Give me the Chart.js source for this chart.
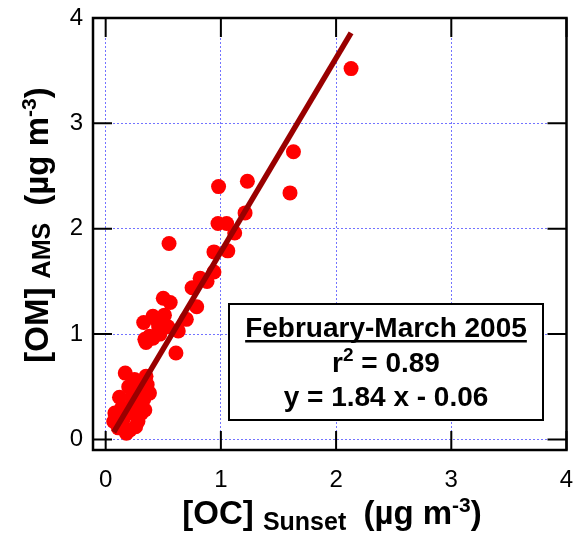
<!DOCTYPE html>
<html>
<head>
<meta charset="utf-8">
<script src="https://cdn.jsdelivr.net/npm/chart.js@4.4.1/dist/chart.umd.min.js"></script>
<style>
  html, body { margin: 0; padding: 0; background: #fff; }
  #wrap { width: 574px; height: 534px; }
</style>
</head>
<body>
<div id="wrap"><canvas id="chart" width="574" height="534"></canvas></div>
<script>
// OC (Sunset) vs OM (AMS), Feb-Mar 2005
const ocSunset = [
    2.13, 1.63, 1.60, 1.23, 0.98, 1.21, 0.975, 1.05, 1.12, 0.55,
    0.94, 1.06, 0.94, 0.82, 0.88, 0.75, 0.79, 0.50, 0.56, 0.70,
    0.63, 0.41, 0.51, 0.33, 0.46, 0.54, 0.34, 0.41, 0.47, 0.61,
    0.35, 0.45, 0.38,
    0.17, 0.35, 0.25, 0.28, 0.38, 0.12, 0.23, 0.33, 0.25, 0.08,
    0.20, 0.31, 0.07, 0.15, 0.28, 0.18, 0.11, 0.34, 0.30, 0.20,
    0.26, 0.36, 0.22, 0.14, 0.21, 0.32
];
const omAms = [
    3.52, 2.73, 2.34, 2.45, 2.40, 2.15, 2.05, 2.05, 1.96, 1.86,
    1.78, 1.79, 1.59, 1.53, 1.50, 1.44, 1.26, 1.34, 1.30, 1.14,
    1.03, 1.17, 1.18, 1.11, 1.07, 1.07, 0.95, 0.96, 1.00, 0.82,
    0.92, 1.12, 0.98,
    0.63, 0.60, 0.57, 0.51, 0.44, 0.40, 0.41, 0.38, 0.32, 0.25,
    0.25, 0.25, 0.17, 0.19, 0.17, 0.06, 0.11, 0.28, 0.46, 0.50,
    0.12, 0.52, 0.32, 0.30, 0.09, 0.50
];
const fitSlope = 1.84;
const fitIntercept = -0.06;
const xTicks = [0, 1, 2, 3, 4];
const yTicks = [0, 1, 2, 3, 4];
const statLines = ['February-March 2005', 'r2 = 0.89', 'y = 1.84 x - 0.06'];

const FONT = "'Liberation Sans', Arial, Helvetica, sans-serif";

const xMinData = Math.min.apply(null, ocSunset);
const xMaxData = Math.max.apply(null, ocSunset);
const fitLine = [xMinData, xMaxData].map(function (v) {
    return { x: v, y: fitSlope * v + fitIntercept };
});

// draw a row of text runs (normal / sub / superscript) centred on cx
function drawRuns(ctx, runs, cx, baseY) {
    let total = 0;
    runs.forEach(function (r) {
        ctx.font = 'bold ' + r.size + 'px ' + FONT;
        r.w = ctx.measureText(r.text).width;
        total += r.w + (r.gap || 0);
    });
    let xPos = cx - total / 2;
    ctx.textAlign = 'left';
    ctx.textBaseline = 'alphabetic';
    runs.forEach(function (r) {
        ctx.font = 'bold ' + r.size + 'px ' + FONT;
        ctx.fillText(r.text, xPos, baseY + (r.dy || 0));
        xPos += r.w + (r.gap || 0);
    });
}

function noPad(s) {
    s.paddingLeft = 0; s.paddingRight = 0;
    s.paddingTop = 0; s.paddingBottom = 0;
}

const framePlugin = {
    id: 'frame',
    afterDraw(chart) {
        const ctx = chart.ctx;
        const a = chart.chartArea;
        const xs = chart.scales.x, ys = chart.scales.y;
        const tickLen = 19;
        ctx.save();
        ctx.strokeStyle = '#000';
        ctx.lineWidth = 2;
        ctx.beginPath();
        xTicks.forEach(function (v) {
            const px = xs.getPixelForValue(v);
            ctx.moveTo(px, a.bottom); ctx.lineTo(px, a.bottom - tickLen);
            ctx.moveTo(px, a.top); ctx.lineTo(px, a.top + tickLen);
        });
        yTicks.forEach(function (v) {
            const py = ys.getPixelForValue(v);
            ctx.moveTo(a.left, py); ctx.lineTo(a.left + tickLen, py);
            ctx.moveTo(a.right, py); ctx.lineTo(a.right - tickLen, py);
        });
        ctx.stroke();
        ctx.lineWidth = 2.5;
        ctx.strokeRect(a.left, a.top, a.right - a.left, a.bottom - a.top);

        // stats box
        const bx = 229, by = 304, bw = 314, bh = 116;
        ctx.fillStyle = '#fff';
        ctx.fillRect(bx, by, bw, bh);
        ctx.lineWidth = 2;
        ctx.strokeRect(bx, by, bw, bh);
        const cx = bx + bw / 2;
        ctx.fillStyle = '#000';
        ctx.font = 'bold 28px ' + FONT;
        ctx.textAlign = 'center';
        ctx.textBaseline = 'alphabetic';
        ctx.fillText(statLines[0], cx, 337);
        const tw = ctx.measureText(statLines[0]).width;
        ctx.fillRect(cx - tw / 2, 340, tw, 2.5);
        drawRuns(ctx, [
            { text: 'r', size: 28 },
            { text: '2', size: 19, dy: -11 },
            { text: ' = 0.89', size: 28 }
        ], cx, 372);
        ctx.font = 'bold 28px ' + FONT;
        ctx.textAlign = 'center';
        ctx.fillText(statLines[2], cx, 406);

        // axis titles
        drawRuns(ctx, [
            { text: '[OC] ', size: 33 },
            { text: 'Sunset', size: 25, dy: 6, gap: 8 },
            { text: ' (\u00b5g m', size: 33 },
            { text: '-3', size: 21, dy: -12 },
            { text: ')', size: 33 }
        ], 332, 524);

        ctx.translate(48, 225);
        ctx.rotate(-Math.PI / 2);
        drawRuns(ctx, [
            { text: '[OM] ', size: 33 },
            { text: 'AMS', size: 25, dy: 2, gap: 8 },
            { text: ' (\u00b5g m', size: 33 },
            { text: '-3', size: 21, dy: -12 },
            { text: ')', size: 33 }
        ], 0, 0);
        ctx.restore();
    }
};

const gridColor = 'rgba(90, 90, 255, 0.85)';

new Chart(document.getElementById('chart'), {
    type: 'scatter',
    data: {
        datasets: [{
            type: 'line',
            label: 'fit',
            data: fitLine,
            borderColor: '#990000',
            borderWidth: 5.5,
            pointRadius: 0,
            fill: false,
            order: 0
        }, {
            label: 'OM vs OC',
            data: ocSunset.map(function (v, i) { return { x: v, y: omAms[i] }; }),
            backgroundColor: '#ff0000',
            borderWidth: 0,
            pointRadius: 7.5,
            pointHoverRadius: 7.5,
            order: 1
        }]
    },
    options: {
        responsive: false,
        animation: false,
        layout: { padding: { top: 18, right: 6, left: 0, bottom: 0 } },
        plugins: {
            legend: { display: false },
            tooltip: { enabled: false }
        },
        scales: {
            x: {
                type: 'linear',
                min: -0.11,
                max: 4,
                afterBuildTicks: function (s) { s.ticks = xTicks.map(function (v) { return { value: v }; }); },
                afterFit: function (s) { s.height = 84; noPad(s); },
                grid: { color: gridColor, lineWidth: 1, drawTicks: false },
                border: { display: false, dash: [2, 2] },
                ticks: {
                    color: '#000',
                    padding: 16,
                    font: { family: FONT, size: 24 },
                    callback: function (v) { return String(v); }
                }
            },
            y: {
                type: 'linear',
                min: -0.1,
                max: 4,
                afterBuildTicks: function (s) { s.ticks = yTicks.map(function (v) { return { value: v }; }); },
                afterFit: function (s) { s.width = 93; noPad(s); },
                grid: { color: gridColor, lineWidth: 1, drawTicks: false },
                border: { display: false, dash: [2, 2] },
                ticks: {
                    color: '#000',
                    padding: 10,
                    font: { family: FONT, size: 24 },
                    callback: function (v) { return String(v); }
                }
            }
        }
    },
    plugins: [framePlugin]
});
</script>
</body>
</html>
